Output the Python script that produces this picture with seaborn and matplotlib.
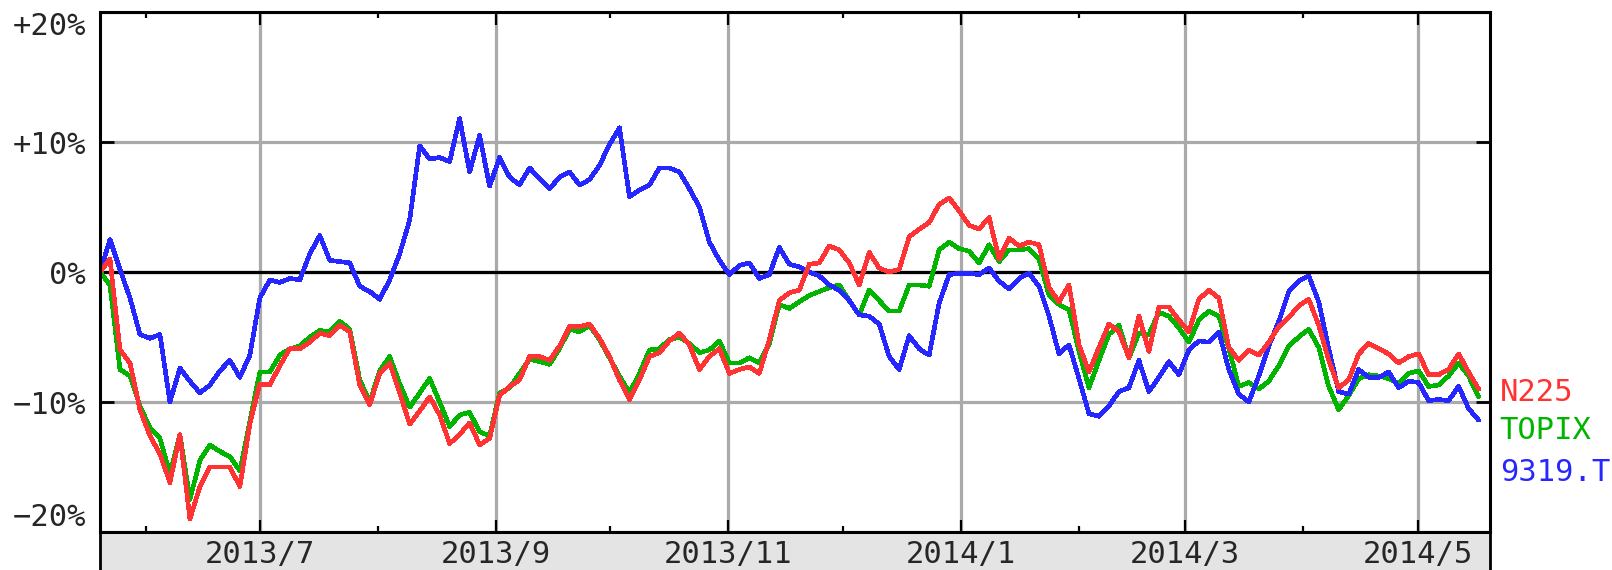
import numpy as np
import pandas as pd
import matplotlib
matplotlib.use("Agg")
import matplotlib.pyplot as plt
import seaborn as sns
from matplotlib.ticker import FuncFormatter
import matplotlib.dates as mdates

# sampling of the chart: first and last reading, number of readings
start_date = "2013-05-20"
end_date = "2014-05-17"
n_points = 139

# relative performance in %
n225_pct = [
    0.0, 1.0, -6.0, -7.0, -10.6, -12.6, -14.0, -16.2, -12.5, -19.0,
    -16.5, -15.0, -15.0, -15.0, -16.5, -11.7, -8.6, -8.7, -7.2, -5.9,
    -5.9, -5.4, -4.7, -4.9, -4.1, -4.6, -8.7, -10.2, -7.8, -7.0,
    -9.3, -11.7, -10.7, -9.6, -11.0, -13.2, -12.5, -11.6, -13.3, -12.8,
    -9.5, -8.8, -8.3, -6.5, -6.5, -6.8, -5.7, -4.2, -4.2, -4.0,
    -5.1, -6.5, -8.3, -9.8, -8.3, -6.5, -6.2, -5.3, -4.7, -5.6,
    -7.5, -6.5, -5.9, -7.8, -7.5, -7.3, -7.8, -5.2, -2.2, -1.6,
    -1.4, 0.6, 0.7, 2.0, 1.7, 0.7, -1.0, 1.5, 0.3, 0.0,
    0.2, 2.7, 3.3, 3.8, 5.2, 5.7, 4.7, 3.6, 3.3, 4.2,
    1.0, 2.6, 2.0, 2.3, 2.1, -1.2, -2.3, -1.0, -5.6, -7.7,
    -5.8, -4.0, -4.6, -6.6, -3.4, -6.1, -2.7, -2.7, -3.7, -4.6,
    -2.1, -1.4, -2.0, -5.8, -6.8, -6.0, -6.4, -5.4, -4.2, -3.5,
    -2.6, -2.1, -4.1, -6.8, -8.9, -8.3, -6.3, -5.5, -5.9, -6.3,
    -7.0, -6.5, -6.3, -7.9, -7.9, -7.5, -6.3, -7.7, -9.0,
]
topix_pct = [
    0.0, -1.0, -7.5, -8.0, -10.3, -12.0, -12.8, -15.5, -12.5, -17.5,
    -14.5, -13.3, -13.8, -14.2, -15.3, -11.5, -7.7, -7.7, -6.4, -5.9,
    -5.7, -5.0, -4.5, -4.6, -3.8, -4.4, -8.3, -10.0, -7.6, -6.5,
    -8.6, -10.4, -9.3, -8.2, -10.0, -11.9, -11.0, -10.8, -12.3, -12.6,
    -9.3, -8.9, -7.8, -6.7, -6.9, -7.1, -5.9, -4.4, -4.6, -4.1,
    -5.2, -6.6, -8.0, -9.3, -7.8, -6.0, -5.9, -5.2, -5.0, -5.5,
    -6.2, -6.0, -5.3, -7.0, -7.0, -6.6, -7.0, -5.5, -2.5, -2.8,
    -2.3, -1.8, -1.5, -1.2, -1.0, -2.2, -3.3, -1.4, -2.2, -3.0,
    -3.0, -1.0, -1.0, -1.1, 1.7, 2.3, 1.8, 1.6, 0.7, 2.1,
    0.8, 1.7, 1.7, 1.8, 1.0, -1.8, -2.5, -2.9, -6.1, -8.9,
    -6.8, -4.8, -4.1, -6.6, -4.7, -4.8, -3.1, -3.4, -4.3, -5.4,
    -3.7, -3.0, -3.4, -5.9, -8.8, -8.5, -9.0, -8.4, -7.2, -5.7,
    -5.0, -4.4, -5.8, -8.8, -10.6, -9.5, -8.2, -7.9, -8.0, -8.2,
    -8.6, -7.8, -7.6, -8.8, -8.7, -8.0, -7.0, -8.0, -9.6,
]
t9319_pct = [
    0.0, 2.5, 0.2, -2.0, -4.8, -5.1, -4.8, -10.0, -7.4, -8.4,
    -9.3, -8.7, -7.6, -6.8, -8.1, -6.4, -2.0, -0.6, -0.8, -0.5,
    -0.6, 1.4, 2.8, 0.9, 0.8, 0.7, -1.1, -1.5, -2.1, -0.6,
    1.4, 4.0, 9.7, 8.7, 8.8, 8.5, 11.8, 7.7, 10.5, 6.6,
    8.8, 7.3, 6.7, 8.0, 7.2, 6.4, 7.3, 7.7, 6.7, 7.1,
    8.2, 9.8, 11.1, 5.8, 6.3, 6.7, 8.0, 8.0, 7.7, 6.4,
    5.0, 2.3, 0.9, -0.2, 0.5, 0.7, -0.5, -0.2, 1.9, 0.6,
    0.4, 0.0, -0.3, -1.0, -1.4, -2.2, -3.3, -3.4, -4.0, -6.5,
    -7.5, -4.9, -5.9, -6.4, -2.4, -0.2, -0.1, -0.1, -0.2, 0.3,
    -0.7, -1.3, -0.5, -0.1, -1.1, -3.4, -6.3, -5.6, -8.2, -10.9,
    -11.1, -10.3, -9.2, -8.9, -6.8, -9.2, -8.1, -6.9, -7.9, -6.0,
    -5.3, -5.4, -4.6, -7.5, -9.4, -10.0, -8.0, -5.7, -3.8, -1.5,
    -0.7, -0.3, -2.3, -5.9, -9.2, -9.4, -7.5, -8.1, -8.1, -7.7,
    -8.9, -8.4, -8.5, -9.9, -9.8, -9.9, -8.8, -10.5, -11.4,
]

series_names = ["N225", "TOPIX", "9319.T"]
series_colors = {"N225": "#ff3333", "TOPIX": "#00b400", "9319.T": "#2626ff"}
y_ticks = [-20, -10, 0, 10, 20]
y_tick_labels = ["\u221220%", "\u221210%", "0%", "+10%", "+20%"]

sns.set_theme(style="white")
plt.rcParams["font.family"] = ["DejaVu Sans Mono", "DejaVu Sans"]

dates = pd.date_range(start_date, end_date, periods=n_points)
df = pd.DataFrame({
    "date": np.tile(dates, 3),
    "pct": n225_pct + topix_pct + t9319_pct,
    "name": np.repeat(series_names, n_points),
})

W, H = 1612, 570
fig = plt.figure(figsize=(W / 100, H / 100), dpi=100)
fig.patch.set_facecolor("white")

# grey band under the plot holding the date labels
strip = fig.add_axes([100 / W, 0, 1390 / W, 38 / H])
strip.set_facecolor("#e4e4e4")
strip.set_xticks([])
strip.set_yticks([])
for side in ["top", "bottom"]:
    strip.spines[side].set_visible(False)
for side in ["left", "right"]:
    strip.spines[side].set_color("black")
    strip.spines[side].set_linewidth(2)
strip.set_zorder(0)

ax = fig.add_axes([100 / W, 38 / H, 1390 / W, 520 / H])
ax.set_zorder(1)

ax.axhline(0, color="black", lw=2.3, zorder=1.5)
sns.lineplot(data=df, x="date", y="pct", hue="name",
             hue_order=["TOPIX", "9319.T", "N225"], palette=series_colors,
             estimator=None, lw=2.6, antialiased=False, legend=False, ax=ax)

ax.set_xlim(pd.Timestamp("2013-05-20"), pd.Timestamp("2014-05-20"))
ax.set_ylim(-20, 20)
ax.set_xlabel("")
ax.set_ylabel("")

ax.xaxis.set_major_locator(mdates.MonthLocator(bymonth=[1, 3, 5, 7, 9, 11]))
ax.xaxis.set_minor_locator(mdates.MonthLocator(bymonth=[2, 4, 6, 8, 10, 12]))
ax.xaxis.set_major_formatter(FuncFormatter(
    lambda v, pos: f"{mdates.num2date(v).year}/{mdates.num2date(v).month}"))

ax.set_yticks(y_ticks)
ax.set_yticklabels(y_tick_labels)

ax.grid(True, which="major", color="#aaaaaa", lw=2.3)
ax.set_axisbelow(True)

ax.tick_params(axis="x", which="both", direction="in", top=True, bottom=True,
               width=1.6, color="black")
ax.tick_params(axis="x", which="major", length=9, pad=6, labelsize=22)
ax.tick_params(axis="x", which="minor", length=4.5)
ax.tick_params(axis="y", direction="in", left=True, right=True, length=10,
               width=2, pad=10, labelsize=22, color="black")

for s in ax.spines.values():
    s.set_color("black")
    s.set_linewidth(2.2)

labels = ax.get_yticklabels()
labels[-1].set_va("top")
labels[0].set_va("bottom")

# series names at the right
legend_y = {"N225": 0.269, "TOPIX": 0.196, "9319.T": 0.115}
for name in series_names:
    ax.text(1.007, legend_y[name], name, transform=ax.transAxes,
            color=series_colors[name], fontsize=22, ha="left", va="center")

fig.savefig("out.png", dpi=100)
